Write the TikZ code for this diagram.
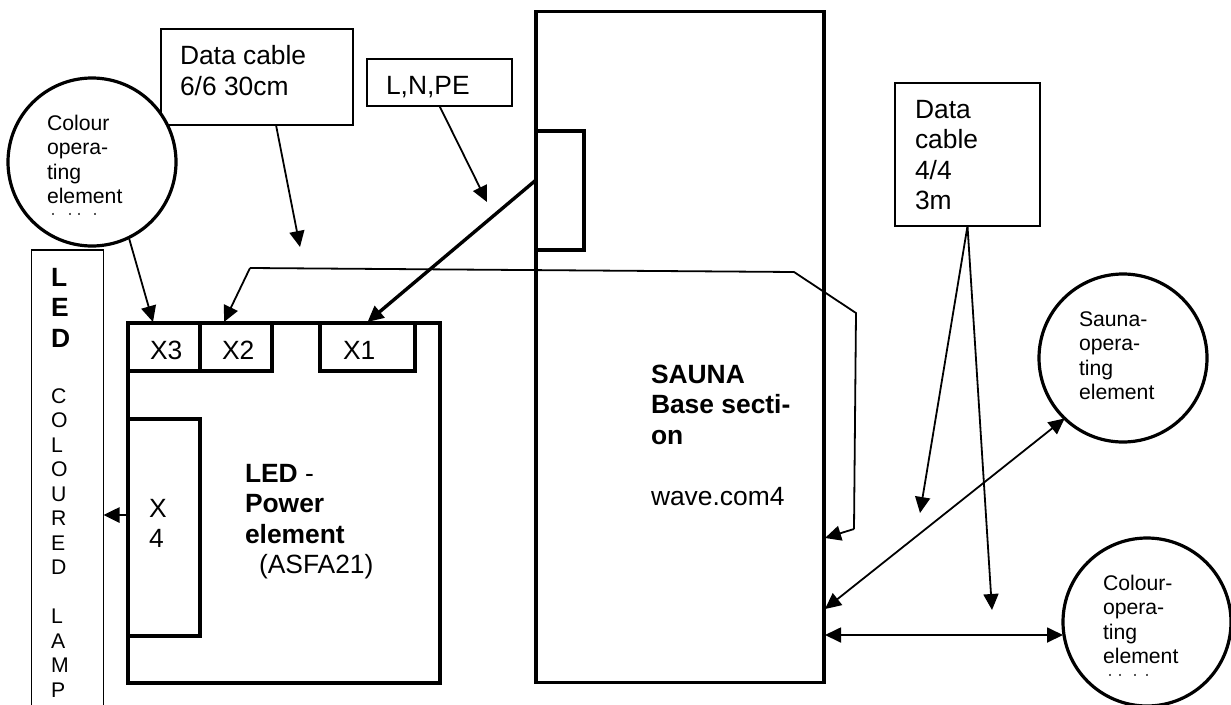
\documentclass[tikz,border=0pt]{standalone}
\usepackage{fontspec}
\setmainfont{Liberation Sans}
\usetikzlibrary{arrows.meta,calc}
\newcommand{\bigtxt}{\fontsize{26.4}{30.6}\selectfont}
\newcommand{\smalltxt}{\fontsize{21.2}{24.5}\selectfont}
\newcommand{\stack}[1]{\begin{tabular}[t]{@{}l@{}}#1\end{tabular}}
\tikzset{
  x=1pt,y=-1pt,
  heavybox/.style={draw=black,line width=3.2pt,inner sep=0pt,outer sep=0pt,rectangle},
  labelbox/.style={draw=black,line width=2pt,inner sep=0pt,outer sep=0pt,rectangle,fill=white},
  hairbox/.style={draw=black,line width=1.5pt,inner sep=0pt,outer sep=0pt,rectangle,fill=white},
  roundel/.style={draw=black,line width=3.2pt,fill=white,circle,inner sep=0pt,outer sep=0pt,minimum size=168pt},
  big/.style={anchor=base west,inner sep=0pt,outer sep=0pt,font=\bigtxt},
  small/.style={anchor=base west,inner sep=0pt,outer sep=0pt,font=\smalltxt},
  conn/.style={line width=1.8pt,-{Triangle[length=16pt,width=15pt]}},
  twoway/.style={line width=1.8pt,{Triangle[length=16pt,width=15pt]}-{Triangle[length=16pt,width=15pt]}},
  heavyconn/.style={line width=3.4pt,-{Triangle[length=16pt,width=15pt]}},
  clipmark/.style={line width=1.2pt,draw=black!65},
}
\begin{document}
\begin{tikzpicture}
\useasboundingbox (0,0) rectangle (1231,704);
% boxes
\node[labelbox,minimum width=192pt,minimum height=96pt] (dc6) at (257,77) {};
\node[hairbox,minimum width=145pt,minimum height=47pt] (lnpe) at (439.5,82.5) {};
\node[labelbox,minimum width=145pt,minimum height=143pt] (dc4) at (967.5,154.5) {};
\node[hairbox,minimum width=72pt,minimum height=520pt] (lamp) at (67.5,510) {};
\node[heavybox,minimum width=288pt,minimum height=671pt] (sauna) at (680,347) {};
\node[heavybox,minimum width=48pt,minimum height=119pt] (port) at (560,190.5) {};
\node[heavybox,minimum width=312pt,minimum height=360pt] (power) at (284,503) {};
\node[heavybox,minimum width=72pt,minimum height=48pt] (x3) at (164,347) {};
\node[heavybox,minimum width=72pt,minimum height=48pt] (x2) at (236,347) {};
\node[heavybox,minimum width=95pt,minimum height=48pt] (x1) at (367.5,347) {};
\node[heavybox,minimum width=72pt,minimum height=217pt] (x4) at (164,527.5) {};
\node[roundel] (colA) at (92,162) {};
\node[roundel] (saunaop) at (1123,358) {};
\node[roundel] (colB) at (1147,622) {};
% free ends and bends
\coordinate (tipA) at (300,247);
\coordinate (tipB) at (487,202);
\coordinate (tipC) at (920,513);
\coordinate (tipD) at (992,610);
\coordinate (bendA) at (250,268);
\coordinate (bendB) at (794,272);
\coordinate (bendC) at (856,313);
\coordinate (bendD) at (854,529);
% connectors
\draw[conn] ($(dc6.south)+(19,0)$) -- (tipA);
\draw[conn] (lnpe.south) -- (tipB);
\draw[conn] (colA.-64.6) -- ($(x3.north)+(-11,-1)$);
\draw[heavyconn] ($(port.west)+(0,-10.5)$) -- ($(x1.north)+(0,-1)$);
\draw[conn] (bendD) -- ($(sauna.east)+(1,191)$);
\draw[line width=1.8pt,line join=round] (bendA) -- (bendB) -- (bendC) -- (bendD);
\draw[conn] (bendA) -- ($(x2.north)+(-12,-1)$);
\draw[conn] (dc4.south) -- (tipC);
\draw[conn] (dc4.south) -- (tipD);
\draw[twoway] ($(sauna.east)+(1,262)$) -- (saunaop.226);
\draw[twoway] ($(sauna.east)+(1,288)$) -- (colB.west |- 0,635);
\draw[line width=2.6pt,-{Triangle[length=16pt,width=15pt]}] (x4.west |- 0,515) -- (lamp.east |- 0,515);
% text
\node[big] (tdc6) at (180,64.5) {\stack{Data cable\\6/6 30cm}};
\node[big] (tln) at (386,94) {L,N,PE};
\node[big] (tdc4) at (915,118) {\stack{Data\\cable\\4/4\\3m}};
\node[small] (tcolA) at (47,130) {\stack{Colour\\opera-\\ting\\element}};
\node[small] (tsaunaop) at (1079,326) {\stack{Sauna-\\opera-\\ting\\element}};
\node[small] (tcolB) at (1103,590) {\stack{Colour-\\opera-\\ting\\element}};
\node[big] (tx3) at (150,359) {X3};
\node[big] (tx2) at (222,359) {X2};
\node[big] (tx1) at (343,359) {X1};
\node[big] (tx4) at (149,517) {\stack{X\\4}};
\node[big] (tpower) at (245,482) {\stack{\textbf{LED} -\\\textbf{Power}\\\textbf{element}\\\hspace*{14pt}(ASFA21)}};
\node[big] (tsauna) at (651,383) {\stack{\textbf{SAUNA}\\\textbf{Base secti-}\\\textbf{on}\\ \\wave.com4}};
\node[big] (tled) at (51,286) {\stack{\textbf{L}\\\textbf{E}\\\textbf{D}}};
\node[small] (tlamp) at (51,403) {\stack{C\\O\\L\\O\\U\\R\\E\\D\\ \\L\\A\\M\\P}};
% cut-off line remains
\foreach \mx in {53,70,79,95} \draw[clipmark] (\mx,212.5) -- (\mx,214.5);
\foreach \mx in {1110,1120,1135,1147} \draw[clipmark] (\mx,673.5) -- (\mx,675.5);
\end{tikzpicture}
\end{document}
